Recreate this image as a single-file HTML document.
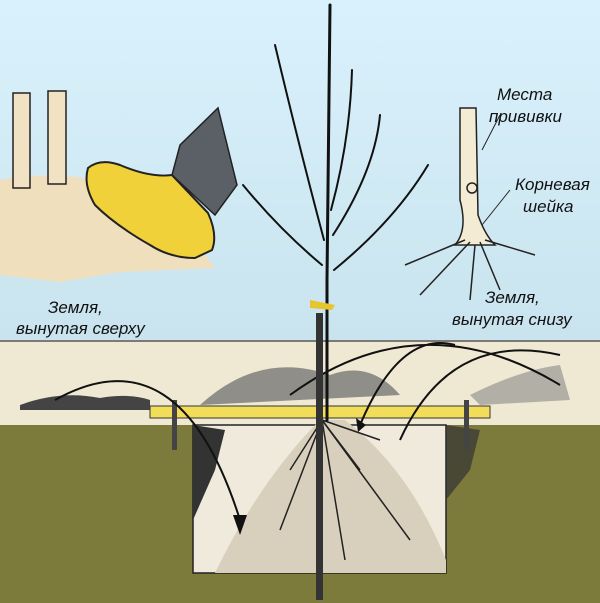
<!DOCTYPE html>
<html><head><meta charset="utf-8"><style>
html,body{margin:0;padding:0;width:600px;height:603px;overflow:hidden;background:#d3ebf5}
svg{display:block}
text{font-family:"Liberation Sans","DejaVu Sans",sans-serif;font-style:italic;fill:#111;font-size:17px}
</style></head><body>
<svg width="600" height="603" viewBox="0 0 600 603">
<defs><linearGradient id="sky" x1="0" y1="0" x2="0" y2="1"><stop offset="0" stop-color="#d9f1fc"/><stop offset="1" stop-color="#c9e4ee"/></linearGradient></defs>
<rect width="600" height="342" fill="url(#sky)"/>
<rect y="340" width="600" height="86" fill="#efe8d2"/>
<line x1="0" y1="341" x2="600" y2="341" stroke="#555" stroke-width="1.5"/>
<rect y="425" width="600" height="178" fill="#7c7b3c"/>
<rect x="193" y="425" width="253" height="148" fill="#efeadb" stroke="#222" stroke-width="1.5"/>
<path d="M193 425 L193 520 L215 470 L225 430Z" fill="#333"/>
<path d="M446 425 L446 500 L470 470 L480 430Z" fill="#333" opacity=".7"/>
<path d="M215 573 Q260 480 320 420 L345 420 Q410 470 446 560 L446 573Z" fill="#d8d0bc"/>
<path d="M200 405 Q260 350 330 375 Q370 360 400 395 Z" fill="#777" opacity=".8"/>
<path d="M20 405 Q60 390 100 398 Q130 393 150 400 L150 410 L20 410Z" fill="#444"/>
<path d="M470 395 Q520 370 560 365 L570 400 L480 405Z" fill="#888" opacity=".6"/>
<rect x="150" y="406" width="340" height="12" fill="#f2dd5a" stroke="#333" stroke-width="1"/>
<rect x="172" y="400" width="5" height="50" fill="#444"/>
<rect x="464" y="400" width="5" height="50" fill="#444"/>
<g fill="none" stroke="#111" stroke-width="2">
<path d="M55 400 Q180 330 240 520"/>
<path d="M290 395 Q420 300 560 385"/>
<path d="M360 425 Q400 330 455 345"/>
<path d="M400 440 Q450 330 560 355"/>
</g>
<g fill="#111"><path d="M233 515 L247 515 L240 535Z"/><path d="M356 418 L366 425 L358 432Z"/></g>
<g stroke="#222" stroke-width="1.5" fill="none">
<path d="M322 420 L290 470 M322 420 L360 470 M322 420 L410 540 M322 420 L280 530 M322 420 L345 560 M322 420 L380 440"/>
</g>
<rect x="316" y="313" width="7" height="287" fill="#333"/>
<g stroke="#111" stroke-width="3" fill="none" stroke-linecap="round">
<path d="M327 420 L327 280 L330 5"/>
</g>
<g stroke="#111" stroke-width="2" fill="none" stroke-linecap="round">
<path d="M322 265 Q280 230 243 185"/>
<path d="M324 240 Q300 150 275 45"/>
<path d="M331 210 Q350 140 352 70"/>
<path d="M333 235 Q375 170 380 115"/>
<path d="M334 270 Q395 220 428 165"/>
</g>
<path d="M310 300 L335 305 L332 310 L310 308Z" fill="#e6c52f"/>
<!-- left mound & boot -->
<path d="M0 180 Q40 172 85 178 L195 240 Q205 255 215 268 L120 272 L60 282 L0 275Z" fill="#f0dfbc"/>
<rect x="13" y="93" width="17" height="95" fill="#f1e2c4" stroke="#222" stroke-width="1.5"/>
<rect x="48" y="91" width="18" height="93" fill="#f1e2c4" stroke="#222" stroke-width="1.5"/>
<path d="M180 145 L218 108 L237 185 L215 215 L172 175Z" fill="#5a6066" stroke="#222" stroke-width="1.5"/>
<path d="M88 168 Q100 158 120 165 Q150 178 172 175 L208 213 Q218 235 212 250 L195 258 Q170 258 150 245 Q115 225 95 205 Q83 185 88 168Z" fill="#f0d139" stroke="#222" stroke-width="2"/>
<path d="M460 108 L476 108 L478 215 Q485 235 495 245 L455 245 Q468 230 460 200Z" fill="#f3ebd3" stroke="#222" stroke-width="1.5"/>
<circle cx="472" cy="188" r="5" fill="none" stroke="#222" stroke-width="1.5"/>
<g stroke="#222" stroke-width="1.5" fill="none"><path d="M465 240 L405 265 M470 242 L420 295 M480 242 L500 290 M485 240 L535 255 M475 245 L470 300"/></g>
<g stroke="#222" stroke-width="1" fill="none"><path d="M482 150 L500 115 M482 225 L510 190"/></g>
<text x="497" y="100">Места</text>
<text x="489" y="122">прививки</text>
<text x="515" y="190">Корневая</text>
<text x="523" y="212">шейка</text>
<text x="48" y="313">Земля,</text>
<text x="16" y="334">вынутая сверху</text>
<text x="485" y="303">Земля,</text>
<text x="452" y="325">вынутая снизу</text>
</svg>
</body></html>
